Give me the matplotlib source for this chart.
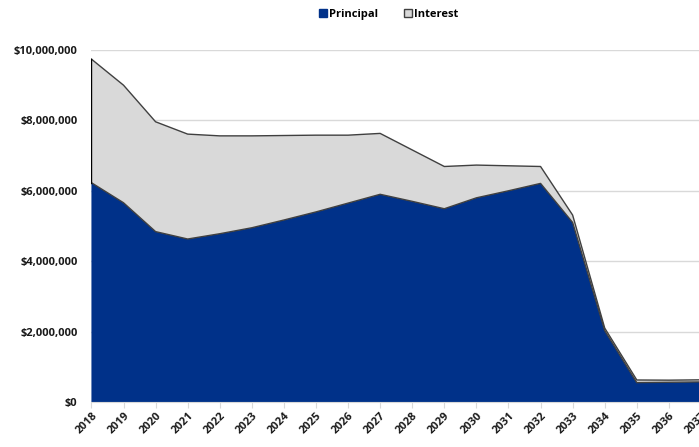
import matplotlib
matplotlib.use("Agg")
import matplotlib.pyplot as plt
from matplotlib.patches import Patch
from matplotlib.ticker import FuncFormatter
import numpy as np

years = list(range(2018, 2038))
principal = [6.23, 5.66, 4.84, 4.63, 4.78, 4.95, 5.17, 5.40, 5.65, 5.90,
             5.70, 5.49, 5.80, 6.00, 6.21, 5.10, 2.03, 0.55, 0.56, 0.57]
total = [9.74, 9.00, 7.96, 7.61, 7.56, 7.56, 7.57, 7.58, 7.58, 7.63,
         7.16, 6.69, 6.73, 6.71, 6.69, 5.31, 2.10, 0.625, 0.62, 0.63]
principal = [v * 1e6 for v in principal]
interest = [(t * 1e6) - p for t, p in zip(total, principal)]
series_names = ["Principal", "Interest"]

navy = "#003189"
gray = "#D9D9D9"
edge = "#404040"

fig = plt.figure(figsize=(6.99, 4.47), dpi=100)
ax = fig.add_axes([0.1308, 0.1007, 0.872, 0.7875])

x = np.array(years)
p = np.array(principal)
top = p + np.array(interest)

ax.fill_between(x, 0, p, facecolor=navy, edgecolor="none", zorder=3)
ax.plot(x, p, color=edge, lw=1.0, zorder=4)
ax.fill_between(x, p, top, facecolor=gray, edgecolor="none", zorder=3)
ax.plot(x, top, color=edge, lw=1.0, zorder=4)
ax.plot([x[0], x[0]], [p[0], top[0]], color="black", lw=1.0, zorder=4)

ax.set_xlim(2018, 2037)
ax.set_ylim(0, 10e6)
ax.set_yticks(np.arange(0, 10e6 + 1, 2e6))
ax.yaxis.set_major_formatter(FuncFormatter(lambda v, pos: "${:,.0f}".format(v)))
ax.set_xticks(years)
ax.set_xticklabels([str(y) for y in years], rotation=45, ha="right",
                   rotation_mode="anchor")

ax.grid(axis="y", color="#D9D9D9", lw=1.0, zorder=0)
ax.set_axisbelow(True)
for s in ["top", "right", "left"]:
    ax.spines[s].set_visible(False)
ax.spines["bottom"].set_color("#D9D9D9")
ax.spines["bottom"].set_zorder(5)

for lbl in ax.get_yticklabels() + ax.get_xticklabels():
    lbl.set_fontfamily("Open Sans")
    lbl.set_fontweight("bold")
    lbl.set_fontsize(8)
    lbl.set_color("#1a1a1a")
ax.tick_params(axis="y", length=0, pad=10)
ax.tick_params(axis="x", length=4, color="#D9D9D9", direction="out", pad=2)

handles = [Patch(facecolor=navy, edgecolor=navy, label=series_names[0]),
           Patch(facecolor=gray, edgecolor=edge, label=series_names[1])]
leg = fig.legend(handles=handles, loc="center", bbox_to_anchor=(0.556, 0.968),
                 ncol=2, frameon=False, handlelength=0.7, handleheight=0.7,
                 handletextpad=0.15, columnspacing=2.4,
                 prop={"family": "Open Sans", "weight": "bold", "size": 8})

fig.savefig("out.png", dpi=100)
